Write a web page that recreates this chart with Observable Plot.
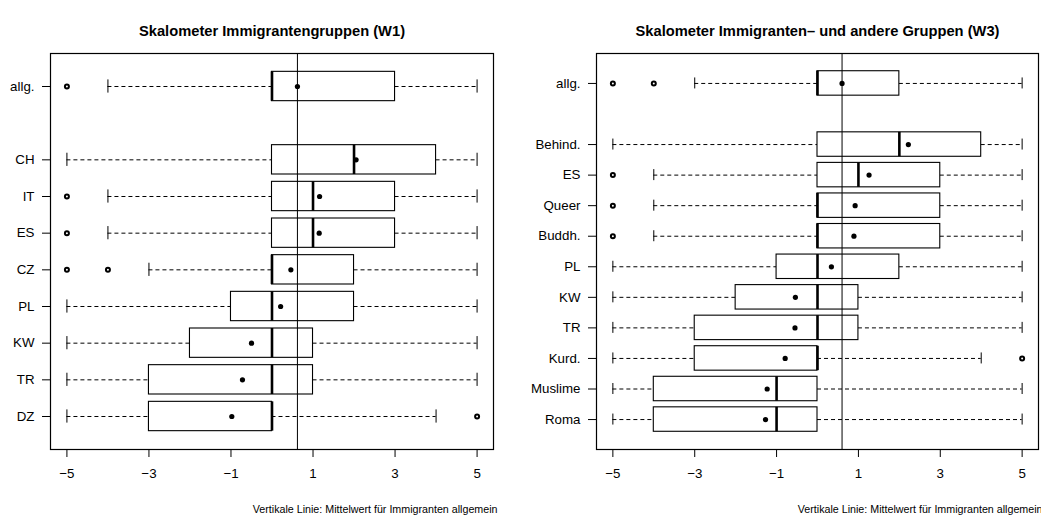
<!DOCTYPE html>
<html>
<head>
<meta charset="utf-8">
<script src="https://cdn.jsdelivr.net/npm/d3@7"></script>
<script src="https://cdn.jsdelivr.net/npm/@observablehq/plot@0.6"></script>
<style>
  html, body { margin: 0; padding: 0; background: #fff; }
  #chart { position: relative; width: 1041px; height: 518px; overflow: hidden; }
  #chart > div { position: absolute; top: 0; }
  svg { font-family: "Liberation Sans", Arial, Helvetica, sans-serif; }
</style>
</head>
<body>
<div id="chart"><div id="w1"></div><div id="w3"></div></div>
<script>
// Skalometer (-5 .. +5), wave 1: immigrant groups, listed top to bottom
const w1Groups  = ["allg.", "CH", "IT", "ES", "CZ", "PL", "KW", "TR", "DZ"];
const w1Low     = [-4, -5, -4, -4, -3, -5, -5, -5, -5];
const w1Q1      = [ 0,  0,  0,  0,  0, -1, -2, -3, -3];
const w1Median  = [ 0,  2,  1,  1,  0,  0,  0,  0,  0];
const w1Q3      = [ 3,  4,  3,  3,  2,  2,  1,  1,  0];
const w1High    = [ 5,  5,  5,  5,  5,  5,  5,  5,  4];
const w1Mean    = [0.62, 2.05, 1.16, 1.15, 0.46, 0.21, -0.50, -0.72, -0.98];
const w1Outliers = [["allg.", -5], ["IT", -5], ["ES", -5], ["CZ", -5], ["CZ", -4], ["DZ", 5]];

// Wave 3: immigrant and other groups, listed top to bottom
const w3Groups  = ["allg.", "Behind.", "ES", "Queer", "Buddh.", "PL", "KW", "TR", "Kurd.", "Muslime", "Roma"];
const w3Low     = [-3, -5, -4, -4, -4, -5, -5, -5, -5, -5, -5];
const w3Q1      = [ 0,  0,  0,  0,  0, -1, -2, -3, -3, -4, -4];
const w3Median  = [ 0,  2,  1,  0,  0,  0,  0,  0,  0, -1, -1];
const w3Q3      = [ 2,  4,  3,  3,  3,  2,  1,  1,  0,  0,  0];
const w3High    = [ 5,  5,  5,  5,  5,  5,  5,  5,  4,  5,  5];
const w3Mean    = [0.60, 2.22, 1.26, 0.92, 0.89, 0.34, -0.54, -0.55, -0.79, -1.23, -1.27];
const w3Outliers = [["allg.", -5], ["allg.", -4], ["ES", -5], ["Queer", -5], ["Buddh.", -5], ["Kurd.", 5]];

const xTicks = [-5, -3, -1, 1, 3, 5];
const caption = "Vertikale Linie: Mittelwert für Immigranten allgemein";

// Row positions: groups count up from the bottom, "allg." sits one empty row above them
function rows(groups) {
  const n = groups.length - 1;
  const pos = new Map();
  groups.forEach((g, i) => pos.set(g, i === 0 ? n + 2 : n - i + 1));
  return pos;
}

function boxplot({groups, low, q1, median, q3, high, mean, outliers, title, width, marginLeft, marginRight}) {
  const pos = rows(groups);
  const top = d3.max(pos.values());
  const data = groups.map((g, i) => ({g, y: pos.get(g), low: low[i], q1: q1[i], med: median[i], q3: q3[i], high: high[i], mean: mean[i]}));
  const outs = outliers.map(([g, v]) => ({y: pos.get(g), v}));
  const overall = mean[0];
  const half = 0.4, staple = 0.18;
  // R-style limits: rows ± 0.5, then 4% padding
  const yLo = 0.5, yHi = top + 0.5, pad = (yHi - yLo) * 0.04;
  return Plot.plot({
    width, height: 518,
    marginTop: 53, marginBottom: 69, marginLeft, marginRight,
    style: {fontFamily: "'Liberation Sans', Arial, sans-serif", fontSize: "13.3px", color: "black", background: "white"},
    x: {domain: [-5.4, 5.4], label: null},
    y: {domain: [yLo - pad, yHi + pad], label: null},
    marks: [
      Plot.axisX({ticks: xTicks, tickSize: 8, tickPadding: 11, tickFormat: d3.format("d"), fontSize: "13.3px", label: null}),
      Plot.axisY({ticks: data.map(d => d.y), tickSize: 8, tickPadding: 8, tickFormat: y => data.find(d => d.y === y).g, fontSize: "13.3px", label: null}),
      Plot.ruleY(data, {y: "y", x1: "low", x2: "q1", stroke: "black", strokeDasharray: "4,3"}),
      Plot.ruleY(data, {y: "y", x1: "q3", x2: "high", stroke: "black", strokeDasharray: "4,3"}),
      Plot.ruleX(data, {x: "low", y1: d => d.y - staple, y2: d => d.y + staple, stroke: "black"}),
      Plot.ruleX(data, {x: "high", y1: d => d.y - staple, y2: d => d.y + staple, stroke: "black"}),
      Plot.rect(data, {x1: "q1", x2: "q3", y1: d => d.y - half, y2: d => d.y + half, fill: "white", stroke: "black", strokeWidth: 1.1}),
      Plot.ruleX(data, {x: "med", y1: d => d.y - half, y2: d => d.y + half, stroke: "black", strokeWidth: 2.6}),
      Plot.ruleX([overall], {stroke: "black", strokeWidth: 1}),
      Plot.dot(data, {x: "mean", y: "y", r: 2.6, fill: "black"}),
      Plot.dot(outs, {x: "v", y: "y", r: 2, fill: "white", stroke: "black", strokeWidth: 2}),
      Plot.frame({stroke: "black", strokeWidth: 1.2}),
      Plot.text([title], {frameAnchor: "top", dy: -28, fontWeight: "bold", fontSize: 14.7, fill: "black"}),
      Plot.text([caption], {frameAnchor: "bottom-right", dx: 4, dy: 63, textAnchor: "end", fontSize: 10.7, fill: "black"})
    ]
  });
}

const left = boxplot({
  groups: w1Groups, low: w1Low, q1: w1Q1, median: w1Median, q3: w1Q3, high: w1High, mean: w1Mean,
  outliers: w1Outliers, title: "Skalometer Immigrantengruppen (W1)",
  width: 520, marginLeft: 50, marginRight: 27
});
const right = boxplot({
  groups: w3Groups, low: w3Low, q1: w3Q1, median: w3Median, q3: w3Q3, high: w3High, mean: w3Mean,
  outliers: w3Outliers, title: "Skalometer Immigranten– und andere Gruppen (W3)",
  width: 521, marginLeft: 76, marginRight: 3
});
const a = document.getElementById("w1");
a.style.left = "0px"; a.appendChild(left);
const b = document.getElementById("w3");
b.style.left = "520px"; b.appendChild(right);
</script>
</body>
</html>
